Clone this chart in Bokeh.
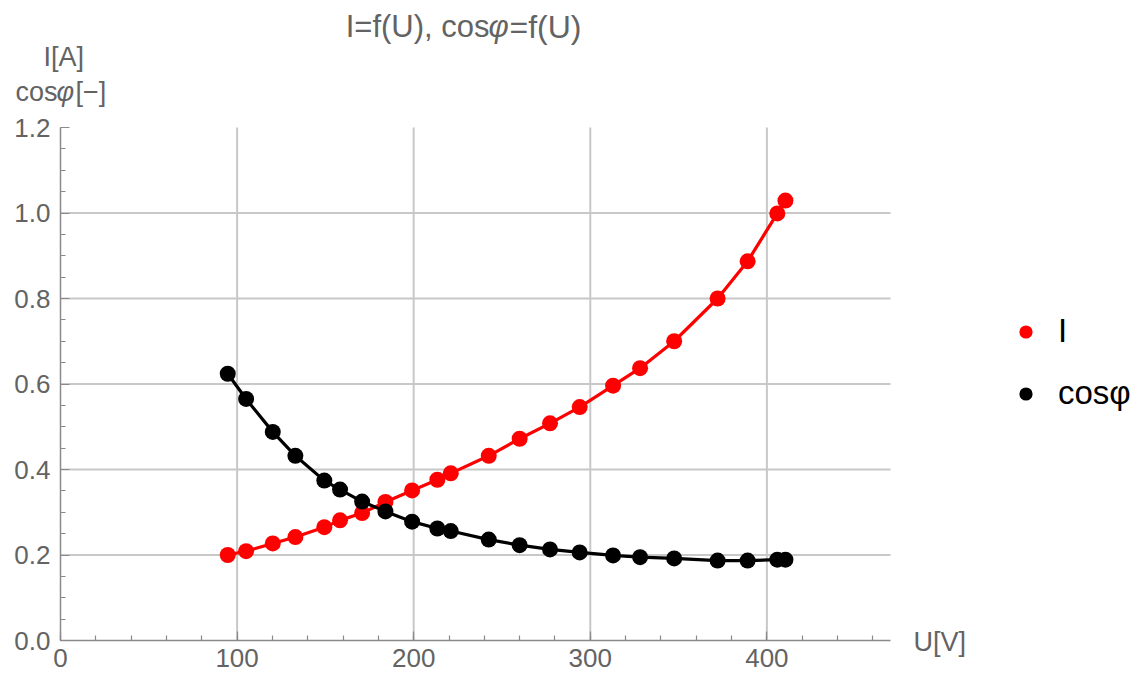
from bokeh.plotting import figure
from bokeh.models import (Range1d, SingleIntervalTicker, NumeralTickFormatter,
                          Label, Legend, LegendItem)
from bokeh.embed import file_html
from bokeh.resources import INLINE

# ---- data ----
U = [94.7, 105.1, 120.2, 133.0, 149.4, 158.3, 170.8, 184.0, 199.1, 213.4, 221.0,
     242.5, 260.0, 277.2, 294.0, 312.9, 328.2, 347.5, 372.1, 389.1, 405.9, 410.5]
I = [0.200, 0.209, 0.227, 0.242, 0.265, 0.281, 0.298, 0.324, 0.351, 0.376, 0.391,
     0.432, 0.472, 0.508, 0.546, 0.596, 0.637, 0.700, 0.800, 0.887, 0.999, 1.029]
cosphi = [0.624, 0.565, 0.488, 0.432, 0.374, 0.353, 0.325, 0.302, 0.278, 0.262, 0.256,
          0.236, 0.223, 0.213, 0.206, 0.199, 0.195, 0.192, 0.187, 0.187, 0.189, 0.189]
x_grid_ticks = [100, 200, 300, 400]
y_grid_ticks = [0.2, 0.4, 0.6, 0.8, 1.0]
series_names = ["I", "cosφ"]
XMAX, YMAX = 470, 1.2

W, H = 1148, 680
L, R, T, B = 60, 890, 127, 640      # pixel position of the axes box
sx = (R - L) / XMAX
sy = (B - T) / YMAX

p = figure(width=W, height=H,
           x_range=Range1d(-L / sx, (W - L) / sx),
           y_range=Range1d(-(H - B) / sy, B / sy),
           output_backend="svg", toolbar_location=None,
           min_border_left=0, min_border_right=0, min_border_top=0, min_border_bottom=0)
p.title.visible = False
p.outline_line_color = None
p.background_fill_color = "white"
p.border_fill_color = "white"
p.grid.visible = False

FONT = "Liberation Sans"
GRAY = "#636363"
AX = "#8a8a8a"

p.xaxis.ticker = SingleIntervalTicker(interval=100, num_minor_ticks=5)
p.yaxis.ticker = SingleIntervalTicker(interval=0.2, num_minor_ticks=4)
p.yaxis.formatter = NumeralTickFormatter(format="0.0")
p.xaxis.fixed_location = 0
p.yaxis.fixed_location = 0
p.xaxis.bounds = (0, XMAX)
p.yaxis.bounds = (0, YMAX + 1e-6)
for ax in (p.xaxis[0], p.yaxis[0]):
    ax.axis_line_color = AX
    ax.axis_line_width = 1.5
    ax.major_tick_line_color = AX
    ax.minor_tick_line_color = AX
    ax.major_tick_line_width = 1.2
    ax.minor_tick_line_width = 1.2
    ax.major_tick_in = 9
    ax.major_tick_out = 0
    ax.minor_tick_in = 5
    ax.minor_tick_out = 0
    ax.major_label_text_font = FONT
    ax.major_label_text_font_size = "26px"
    ax.major_label_text_color = GRAY
p.xaxis.major_label_standoff = 8
p.yaxis.major_label_standoff = 10

# grid lines (at the major tick values, bounded by the axes box)
GRID = "#c8c8c8"
p.segment(x0=x_grid_ticks, x1=x_grid_ticks, y0=[0] * len(x_grid_ticks), y1=[YMAX] * len(x_grid_ticks),
          line_color=GRID, line_width=2)
p.segment(x0=[0] * len(y_grid_ticks), x1=[XMAX] * len(y_grid_ticks), y0=y_grid_ticks, y1=y_grid_ticks,
          line_color=GRID, line_width=2)

p.line(U, I, line_color="#ff0000", line_width=3.2)
rI = p.scatter(U, I, size=16, fill_color="#ff0000", line_color=None)
p.line(U, cosphi, line_color="#000000", line_width=3.2)
rc = p.scatter(U, cosphi, size=16, fill_color="#000000", line_color=None)

legend = Legend(items=[LegendItem(label=series_names[0], renderers=[rI]),
                       LegendItem(label=series_names[1], renderers=[rc])],
                location=(1009, 268), glyph_width=33, glyph_height=33,
                label_text_font=FONT, label_text_font_size="33px", label_text_color="black",
                label_standoff=16, spacing=24, padding=0, margin=0,
                border_line_color=None, background_fill_alpha=0)
p.add_layout(legend)


def lab(text, xpx, ypx, size, align="left", italic=False, color=GRAY):
    p.add_layout(Label(x=(xpx - L) / sx, y=(B - ypx) / sy, text=text,
                       text_font=FONT, text_font_size=size, text_color=color,
                       text_align=align, text_baseline="alphabetic",
                       text_font_style="italic" if italic else "normal"))


# title
lab("I=f(U), cos", 489, 26, "31px", align="right")
lab("φ", 488, 26, "31px", italic=True)
lab("=f(U)", 509, 26, "32px")
# axis labels
lab("I[A]", 43, 56, "27px")
lab("cos", 57, 91, "27px", align="right")
lab("φ", 56, 91, "27px", italic=True)
lab("[−]", 75, 91, "27px")
lab("U[V]", 913, 641, "27px")

open("out.html", "w").write(file_html(p, INLINE))
